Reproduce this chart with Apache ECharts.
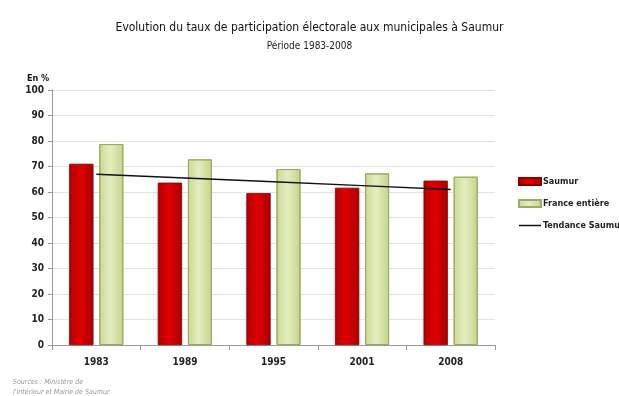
<!DOCTYPE html>
<html>
<head>
<meta charset="utf-8">
<script src="https://cdn.jsdelivr.net/npm/echarts@6/dist/echarts.min.js"></script>
<style>
html, body { margin: 0; padding: 0; background: #fff; }
#chart { width: 619px; height: 396px; }
</style>
</head>
<body>
<div id="chart"></div>
<script>
const ANNEES = ['1983', '1989', '1995', '2001', '2008'];
const SAUMUR = [71, 63.6, 59.5, 61.6, 64.4];
const FRANCE = [78.8, 72.8, 69, 67.3, 66];
const TENDANCE = [67, 65.5, 64, 62.5, 61];

const police = '"DejaVu Sans Condensed", "Liberation Sans Narrow", sans-serif';

const rouge = new echarts.graphic.LinearGradient(0, 0, 1, 0, [
    { offset: 0, color: '#b00000' },
    { offset: 0.45, color: '#e00000' },
    { offset: 1, color: '#a80000' }
]);
const vert = new echarts.graphic.LinearGradient(0, 0, 1, 0, [
    { offset: 0, color: '#c9d98f' },
    { offset: 0.45, color: '#e4edc0' },
    { offset: 1, color: '#c3d48a' }
]);

let option = {
    backgroundColor: '#ffffff',
    title: [{
        text: 'Evolution du taux de participation électorale aux municipales à Saumur',
        left: 'center',
        top: 17,
        textStyle: { fontFamily: police, fontSize: 12, fontWeight: 'normal', color: '#111' }
    }, {
        text: 'Période 1983-2008',
        left: 'center',
        top: 36,
        textStyle: { fontFamily: police, fontSize: 10, fontWeight: 'normal', color: '#222' }
    }, {
        text: 'En %',
        left: 22,
        top: 69,
        textStyle: { fontFamily: police, fontSize: 9, fontWeight: 'bold', color: '#111' }
    }, {
        text: 'Sources : Ministère de\nl\'Intérieur et Mairie de Saumur',
        left: 8,
        top: 372,
        textStyle: { fontFamily: police, fontSize: 7, fontStyle: 'italic', fontWeight: 'normal', color: '#999', lineHeight: 10 }
    }],
    legend: {
        orient: 'vertical',
        left: 513,
        top: 172,
        itemGap: 13,
        itemWidth: 22,
        itemHeight: 7,
        textStyle: { fontFamily: police, fontSize: 9, fontWeight: 'bold', color: '#222', padding: [0, 0, 0, -3] },
        data: [
            { name: 'Saumur', icon: 'rect' },
            { name: 'France entière', icon: 'rect' },
            { name: 'Tendance Saumur', icon: 'path://M0,0 H22 V1.5 H0 Z', itemStyle: { color: '#111' } }
        ]
    },
    grid: { left: 52, right: 124, top: 90, bottom: 51 },
    xAxis: {
        type: 'category',
        data: ANNEES,
        axisLine: { lineStyle: { color: '#999' } },
        axisTick: { show: true, lineStyle: { color: '#999' } },
        axisLabel: { fontFamily: police, fontSize: 10, fontWeight: 'bold', color: '#222', margin: 12 }
    },
    yAxis: {
        type: 'value',
        min: 0,
        max: 100,
        interval: 10,
        axisLine: { show: true, lineStyle: { color: '#999' } },
        axisTick: { show: true, length: 4, lineStyle: { color: '#999' } },
        axisLabel: { fontFamily: police, fontSize: 10, fontWeight: 'bold', color: '#222', margin: 8 },
        splitLine: { lineStyle: { color: '#e2e2e2' } }
    },
    series: [{
        name: 'Saumur',
        type: 'bar',
        data: SAUMUR,
        barWidth: 24,
        barGap: '25%',
        itemStyle: { color: rouge, borderColor: '#8a0000', borderWidth: 0.5 }
    }, {
        name: 'France entière',
        type: 'bar',
        data: FRANCE,
        barWidth: 24,
        itemStyle: { color: vert, borderColor: '#9aab62', borderWidth: 1 }
    }, {
        name: 'Tendance Saumur',
        type: 'line',
        data: TENDANCE,
        symbol: 'none',
        lineStyle: { color: '#111', width: 1.5 },
        itemStyle: { color: '#111' },
        z: 5
    }]
};

var myChart = echarts.init(document.getElementById('chart'));
myChart.setOption(option);
</script>
</body>
</html>
